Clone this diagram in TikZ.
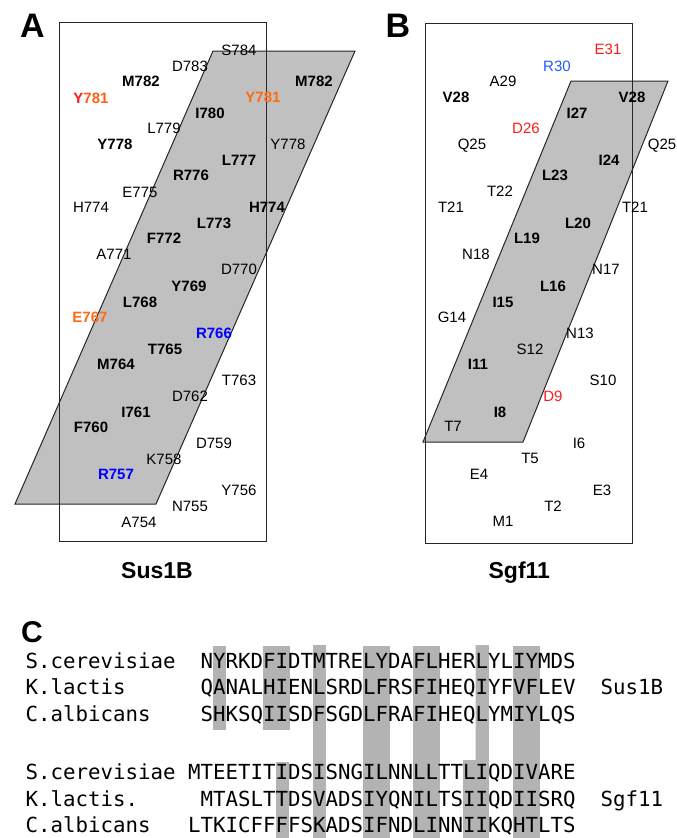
\documentclass[tikz,border=0pt]{standalone}
\usepackage{fontspec}
\setmainfont{Liberation Sans}
\newfontfamily\seqfont{DejaVu Sans Mono}
\definecolor{lorange}{HTML}{FF6A13}
\definecolor{lred}{HTML}{FF1A1A}
\definecolor{lblue}{HTML}{1F5BFF}
\definecolor{dblue}{HTML}{0000FF}
\definecolor{pgray}{HTML}{C0C0C0}
\definecolor{cgray}{HTML}{B3B3B3}
\begin{document}
\begin{tikzpicture}[x=1pt,y=-1pt,
  lab/.style={anchor=base,inner sep=0pt,font=\fontsize{15}{18}\selectfont},
  lb/.style={anchor=base,inner sep=0pt,font=\fontsize{15}{18}\selectfont\bfseries},
  lbo/.style={lb,text=lorange},
  lbb/.style={lb,text=dblue},
  lr/.style={lab,text=lred},
  lbl/.style={lab,text=lblue},
  panel/.style={anchor=base,inner sep=0pt,font=\fontsize{34}{40}\selectfont\bfseries},
  title/.style={anchor=base,inner sep=0pt,font=\fontsize{23}{28}\selectfont\bfseries},
  seq/.style={anchor=base west,inner sep=0pt,font=\seqfont\fontsize{20.76}{24}\selectfont},
  frame/.style={draw=black!85,line width=1pt},
  plane/.style={draw=black!85,line width=1pt,fill=pgray}]
\useasboundingbox (0,0) rectangle (677,838);

% panel letters
\node[panel] (pA) at (32.5,37.7) {A};
\node[panel] (pB) at (398,37.7) {B};
\node[panel,font=\fontsize{30}{36}\selectfont\bfseries] (pC) at (32,642) {C};

% panel A
\filldraw[plane] (213,51) -- (355,51) -- (156,504) -- (15,504) -- cycle;
\draw[frame] (59,22) rectangle (266.5,541);
\foreach \n/\t/\x/\y/\s in {
  a784/S784/239/50/lab, a783/D783/190/66/lab, a782/M782/141/81/lb,
  a782r/M782/314/81/lb, a781r/Y781/263/97/lbo, a780/I780/210/113/lb,
  a779/L779/164/128/lab, a778/Y778/115/144/lb, a778r/Y778/288/144/lab,
  a777/L777/239/160/lb, a776/R776/191/175/lb, a775/E775/140/192/lab,
  a774/H774/91/207/lab, a774r/H774/267/207/lb, a773/L773/214/223/lb,
  a772/F772/164/238/lb, a771/A771/114/254/lab, a770/D770/239/269/lab,
  a769/Y769/189/286/lb, a768/L768/140/302/lb, a767/E767/90/317/lbo,
  a766/R766/214/333/lbb, a765/T765/165/349/lb, a764/M764/116/364/lb,
  a763/T763/239/380/lab, a762/D762/190/396/lab, a761/I761/136/412/lb,
  a760/F760/91/427/lb, a759/D759/214/443/lab, a758/K758/164/459/lab,
  a757/R757/116/474/lbb, a756/Y756/239/490/lab, a755/N755/190/506/lab,
  a754/A754/139/522/lab}
  \node[\s] (\n) at (\x,\y+5.3) {\t};
\node[lb] (a781) at (91,98+5.3) {\textcolor{lred}{Y}\textcolor{lorange!85!lred}{781}};
\node[title] (tA) at (157,578.3) {Sus1B};

% panel B
\filldraw[plane] (571,81) -- (668,81) -- (523,442) -- (423,442) -- cycle;
\draw[frame] (425,23) rectangle (632,543);
\foreach \n/\t/\x/\y/\s in {
  b31/E31/608/49/lr, b30/R30/557/66/lbl, b29/A29/503/81/lab,
  b28/V28/456/97/lb, b28r/V28/632/97/lb, b27/I27/577/113/lb,
  b26/D26/526/128/lr, b25/Q25/472/144/lab, b25r/Q25/662/144/lab,
  b24/I24/609/160/lb, b23/L23/555/175/lb, b22/T22/500/191/lab,
  b21/T21/451/207/lab, b21r/T21/635/207/lab, b20/L20/578/223/lb,
  b19/L19/527/238/lb, b18/N18/476/254/lab, b17/N17/606/269/lab,
  b16/L16/553/286/lb, b15/I15/503/302/lb, b14/G14/452/317/lab,
  b13/N13/580/333/lab, b12/S12/530/349/lab, b11/I11/478/364/lb,
  b10/S10/603/380/lab, b9/D9/553/396/lr, b8/I8/500/412/lb,
  b7/T7/453/426/lab, b6/I6/579/443/lab, b5/T5/530/458/lab,
  b4/E4/479/474/lab, b3/E3/602/490/lab, b2/T2/553/506/lab,
  b1/M1/503/521/lab}
  \node[\s] (\n) at (\x,\y+5.3) {\t};
\node[title] (tB) at (519.3,578.3) {Sgf11};

% panel C : conserved columns
\foreach \k/\w/\ya/\yb in {2/13.3/645.5/729.5, 6/26.7/645.5/729.5,
  10/13.3/645/838, 7/13.3/761.5/838, 14/26.7/646/838,
  18/26.7/646/838, 26/26.7/646/838}
  \fill[cgray] (188+12.5*\k,\ya) rectangle (188+12.5*\k+\w,\yb);
\fill[cgray] (188+12.5*23,645) -- (188+12.5*23+13.3,645) -- (188+12.5*23+13.3,838)
  -- (188+12.5*22,838) -- (188+12.5*22,760) -- (188+12.5*23,760) -- cycle;

\node[seq] (l1) at (25.5,668) {S.cerevisiae};
\node[seq] (s1) at (200.5,668) {NYRKDFIDTMTRELYDAFLHERLYLIYMDS};
\node[seq] (l2) at (25.5,694.5) {K.lactis};
\node[seq] (s2) at (200.5,694.5) {QANALHIENLSRDLFRSFIHEQIYFVFLEV};
\node[seq] (n1) at (600.5,694.5) {Sus1B};
\node[seq] (l3) at (25.5,721) {C.albicans};
\node[seq] (s3) at (200.5,721) {SHKSQIISDFSGDLFRAFIHEQLYMIYLQS};
\node[seq] (l5) at (25.5,779.5) {S.cerevisiae};
\node[seq] (s5) at (188,779.5) {MTEETITIDSISNGILNNLLTTLIQDIVARE};
\node[seq] (l6) at (25.5,806) {K.lactis.};
\node[seq] (s6) at (200.5,806) {MTASLTTDSVADSIYQNILTSIIQDIISRQ};
\node[seq] (n2) at (600.5,806) {Sgf11};
\node[seq] (l7) at (25.5,832.5) {C.albicans};
\node[seq] (s7) at (188,832.5) {LTKICFFFFSKADSIFNDLINNIIKQHTLTS};
\end{tikzpicture}
\end{document}
